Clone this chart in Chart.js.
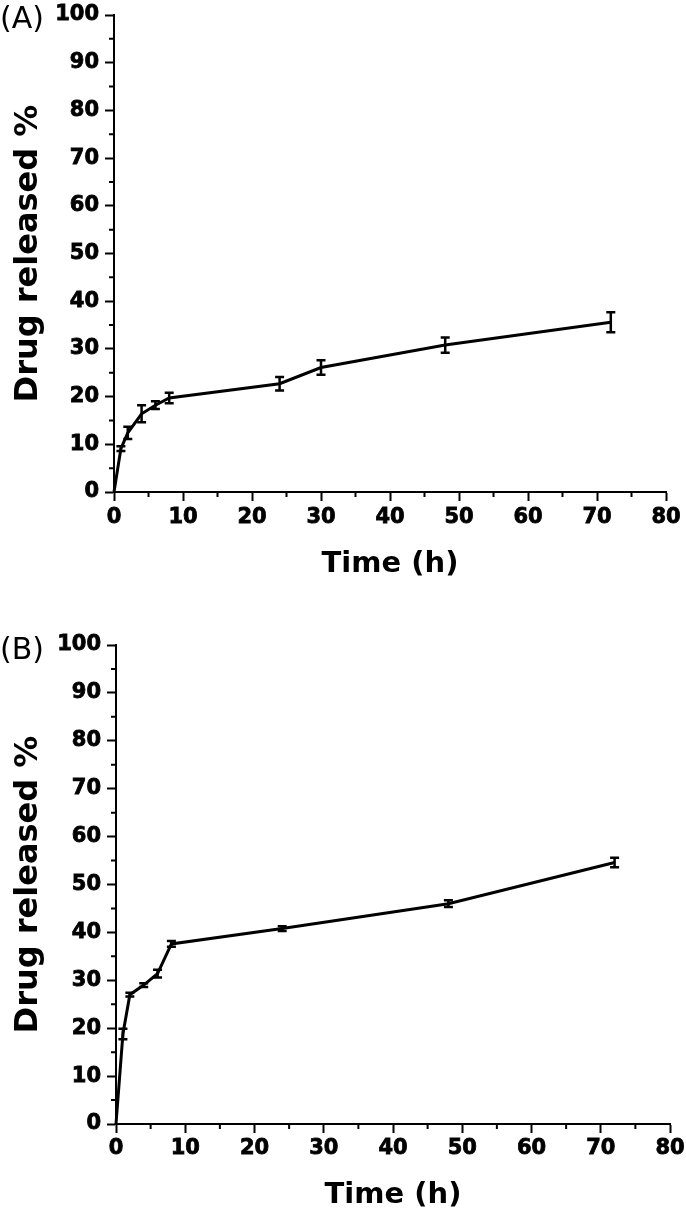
<!DOCTYPE html>
<html>
<head>
<meta charset="utf-8">
<script src="https://cdn.jsdelivr.net/npm/chart.js@4.4.1/dist/chart.umd.min.js"></script>
<style>
  html, body { margin: 0; padding: 0; background: #fff; }
  .panel { position: absolute; left: 0; width: 686px; }
  .tag { position: absolute; left: 0; font: 30px "DejaVu Sans", sans-serif; line-height: 1; color: #000; }
</style>
</head>
<body>
<div class="panel" style="top:0;height:600px"><canvas id="chartA" width="686" height="600"></canvas></div>
<div class="panel" style="top:610px;height:611px"><canvas id="chartB" width="686" height="611"></canvas></div>
<div class="tag" style="top:3px">(A)</div>
<div class="tag" style="top:634px">(B)</div>
<script>
// panel A
const timeA = [0, 1, 2, 4, 6, 8, 24, 30, 48, 72];
const releaseA = [0, 9.1, 12.4, 16.4, 18.2, 19.7, 22.7, 26.1, 30.8, 35.6];
const errorA = [0, 0.5, 1.3, 1.8, 0.8, 1.1, 1.4, 1.5, 1.6, 2.1];

// panel B
const timeB = [0, 1, 2, 4, 6, 8, 24, 48, 72];
const releaseB = [0, 18.8, 27.0, 29.0, 31.4, 37.6, 40.8, 46.0, 54.6];
const errorB = [0, 1.1, 0.4, 0.4, 0.8, 0.6, 0.5, 0.7, 1.0];

// axis ticks
const yTicks = [0, 10, 20, 30, 40, 50, 60, 70, 80, 90, 100];
const xTicks = [0, 10, 20, 30, 40, 50, 60, 70, 80];

Chart.defaults.font.family = '"DejaVu Sans", sans-serif';
Chart.defaults.color = '#000';

// error bars drawn from the dataset values through the scales
const errorBars = {
  id: 'errorBars',
  afterDatasetsDraw(chart) {
    const { ctx, scales: { x, y } } = chart;
    const ds = chart.data.datasets[0];
    ctx.save();
    ctx.strokeStyle = '#000';
    ctx.lineWidth = 2.5;
    ds.data.forEach((p, i) => {
      const e = ds.errors[i];
      if (!e) return;
      const px = x.getPixelForValue(p.x);
      const top = y.getPixelForValue(p.y + e);
      const bot = y.getPixelForValue(p.y - e);
      ctx.beginPath();
      ctx.moveTo(px, top); ctx.lineTo(px, bot);
      ctx.moveTo(px - 4.5, top); ctx.lineTo(px + 4.5, top);
      ctx.moveTo(px - 4.5, bot); ctx.lineTo(px + 4.5, bot);
      ctx.stroke();
    });
    ctx.restore();
  }
};

// short ticks half way between labels
const minorTicks = {
  id: 'minorTicks',
  afterDraw(chart) {
    const { ctx, scales: { x, y }, chartArea } = chart;
    ctx.save();
    ctx.strokeStyle = '#000';
    ctx.lineWidth = 2;
    ctx.beginPath();
    for (let i = 0; i < xTicks.length - 1; i++) {
      const px = x.getPixelForValue((xTicks[i] + xTicks[i + 1]) / 2);
      ctx.moveTo(px, chartArea.bottom);
      ctx.lineTo(px, chartArea.bottom + 5);
    }
    for (let i = 0; i < yTicks.length - 1; i++) {
      const py = y.getPixelForValue((yTicks[i] + yTicks[i + 1]) / 2);
      ctx.moveTo(chartArea.left, py);
      ctx.lineTo(chartArea.left - 5, py);
    }
    ctx.stroke();
    ctx.restore();
  }
};

function makeChart(id, times, values, errors, box) {
  const points = times.map((t, i) => ({ x: t, y: values[i] }));
  const tickFont = { size: 21, weight: 'bold' };
  return new Chart(document.getElementById(id), {
    type: 'line',
    data: {
      datasets: [{
        data: points,
        errors: errors,
        borderColor: '#000',
        borderWidth: 3,
        pointRadius: 0,
        tension: 0,
        clip: false
      }]
    },
    options: {
      responsive: false,
      animation: false,
      layout: { padding: { top: box.top, right: box.right, bottom: 0, left: 0 } },
      plugins: { legend: { display: false }, tooltip: { enabled: false } },
      scales: {
        x: {
          type: 'linear',
          min: xTicks[0],
          max: xTicks[xTicks.length - 1],
          afterBuildTicks: s => { s.ticks = xTicks.map(v => ({ value: v })); },
          afterFit: s => { s.height = box.xHeight; s.paddingLeft = 0; s.paddingRight = 0; },
          ticks: { font: tickFont, color: '#000', padding: box.xPad, maxRotation: 0, autoSkip: false, textStrokeColor: '#000', textStrokeWidth: 0.8 },
          grid: { drawOnChartArea: false, tickLength: 9, tickWidth: 2, tickColor: '#000' },
          border: { color: '#000', width: 2 },
          title: { display: true, text: 'Time (h)', font: { size: 29, weight: 'bold' }, color: '#000', padding: { top: 0, bottom: box.titleBottom } }
        },
        y: {
          min: yTicks[0],
          max: yTicks[yTicks.length - 1],
          afterBuildTicks: s => { s.ticks = yTicks.map(v => ({ value: v })); },
          afterFit: s => { s.width = box.left; s.paddingTop = 0; s.paddingBottom = 0; },
          ticks: { font: tickFont, color: '#000', padding: 6, autoSkip: false, textStrokeColor: '#000', textStrokeWidth: 0.8 },
          grid: { drawOnChartArea: false, tickLength: 9, tickWidth: 2, tickColor: '#000' },
          border: { color: '#000', width: 2 },
          title: { display: true, text: 'Drug released %', font: { size: 32, weight: 'bold' }, color: '#000', padding: { top: 9, bottom: 0 } }
        }
      }
    },
    plugins: [errorBars, minorTicks]
  });
}

makeChart('chartA', timeA, releaseA, errorA, { left: 114, right: 20, top: 15, xHeight: 108, xPad: 4, titleBottom: 18 });
makeChart('chartB', timeB, releaseB, errorB, { left: 116, right: 16, top: 35, xHeight: 97, xPad: 3, titleBottom: 8 });
</script>
</body>
</html>
